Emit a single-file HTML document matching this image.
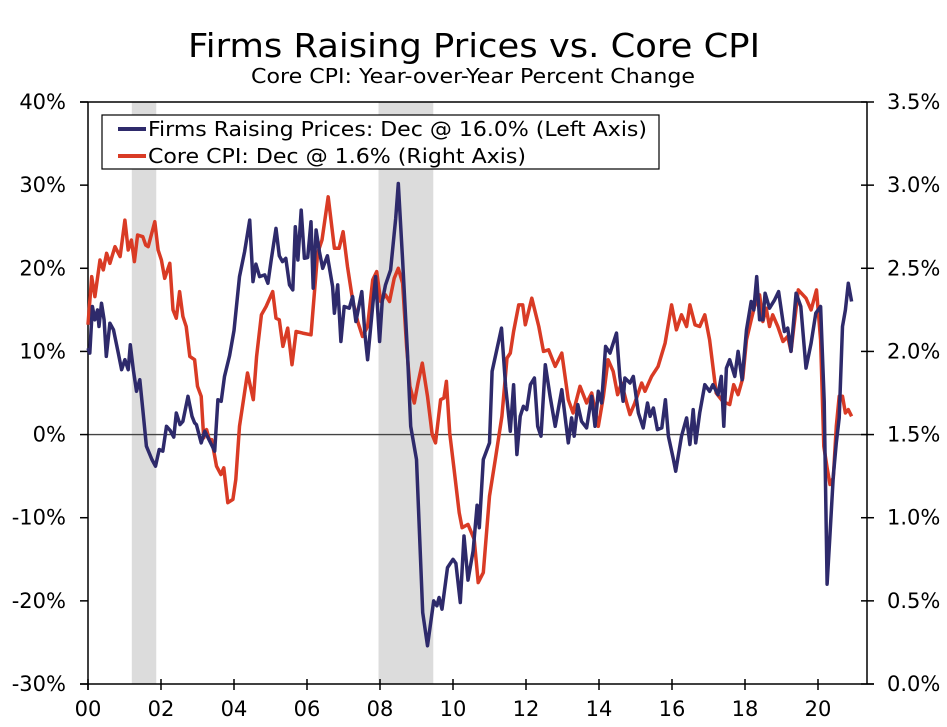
<!DOCTYPE html>
<html><head><meta charset="utf-8">
<style>
html,body{margin:0;padding:0;background:#fff;}
svg{display:block;font-family:"DejaVu Sans","Liberation Sans",sans-serif;}
</style></head>
<body>
<svg id="chart" width="947" height="727" viewBox="0 0 947 727">
<text x="188" y="57" textLength="572" lengthAdjust="spacingAndGlyphs" font-size="33" fill="#000">Firms Raising Prices vs. Core CPI</text>
<text x="251" y="83" textLength="444" lengthAdjust="spacingAndGlyphs" font-size="20" fill="#000">Core CPI: Year-over-Year Percent Change</text>
<g id="rec"></g>
<g id="grid"></g>
<g id="series"></g>
<g>
<rect x="102" y="115" width="557" height="54" fill="#fff" stroke="#000" stroke-width="1.2"/>
<line x1="118" y1="129" x2="146" y2="129" stroke="#2e2a6b" stroke-width="4"/>
<text x="148" y="136" textLength="499" lengthAdjust="spacingAndGlyphs" font-size="20">Firms Raising Prices: Dec @ 16.0% (Left Axis)</text>
<line x1="118" y1="156" x2="146" y2="156" stroke="#d93b25" stroke-width="4"/>
<text x="148" y="163" textLength="378" lengthAdjust="spacingAndGlyphs" font-size="20">Core CPI: Dec @ 1.6% (Right Axis)</text>
</g>
</svg>
<script>
const firmsDates=[0,0.05,0.12,0.19,0.26,0.3,0.37,0.44,0.5,0.6,0.7,0.83,0.92,1.01,1.1,1.16,1.24,1.33,1.42,1.5,1.6,1.75,1.85,1.95,2.05,2.15,2.25,2.35,2.42,2.52,2.6,2.74,2.85,2.92,2.97,3.1,3.2,3.38,3.47,3.56,3.65,3.74,3.88,4.0,4.15,4.29,4.43,4.52,4.6,4.7,4.84,4.93,5.02,5.15,5.24,5.33,5.42,5.52,5.61,5.68,5.75,5.84,5.93,6.02,6.11,6.17,6.25,6.34,6.43,6.56,6.7,6.75,6.84,6.93,7.02,7.16,7.25,7.34,7.5,7.59,7.66,7.79,7.88,7.99,8.06,8.15,8.29,8.43,8.5,8.62,8.75,8.84,9.0,9.17,9.3,9.47,9.56,9.62,9.7,9.85,10.0,10.08,10.2,10.3,10.41,10.55,10.66,10.72,10.83,11.0,11.07,11.33,11.44,11.57,11.66,11.75,11.84,11.93,12.02,12.12,12.23,12.32,12.41,12.53,12.66,12.8,12.98,13.16,13.25,13.32,13.42,13.52,13.66,13.8,13.89,13.98,14.07,14.18,14.3,14.48,14.57,14.66,14.71,14.85,14.94,15.08,15.21,15.33,15.4,15.49,15.6,15.72,15.82,15.9,16.03,16.1,16.26,16.4,16.49,16.58,16.65,16.76,16.9,17.03,17.12,17.26,17.35,17.42,17.49,17.58,17.72,17.81,17.92,18.04,18.17,18.24,18.32,18.4,18.49,18.55,18.67,18.81,18.92,19.08,19.17,19.26,19.4,19.53,19.67,19.81,19.94,20.07,20.17,20.25,20.33,20.42,20.5,20.58,20.67,20.75,20.83,20.92];
const firmsValues=[10.4,9.8,15.4,13.8,15,13,15.8,13.8,9.4,13.4,12.6,9.8,7.8,9,7.8,10.8,7.8,5.2,6.6,3,-1.4,-3,-3.8,-1.8,-2,1,0.5,-0.3,2.6,1.2,1.6,4.6,2.2,1.4,1.2,-1,0.4,-1.2,-2,4.2,4,7,9.5,12.5,19,22,25.8,18.4,20.5,19,19.2,18.2,21,24.8,21.5,20.8,21.2,18,17.4,25,21,27,21.2,21.3,25.6,17.6,24.6,22,20,21.5,17.8,14.6,18,11.2,15.4,15.2,16.6,13.6,17.2,12,9,15,19,11.2,16,18,19.8,26,30.2,21,10,1,-3,-21.4,-25.4,-20,-20.6,-19.6,-21,-16,-15,-15.5,-20.2,-12.2,-17.5,-14,-8.5,-11.2,-3,-1,7.6,12.8,5.8,0.4,6,-2.4,2.2,3.4,3,6,6.8,1,-0.2,8.4,4.6,1,5.4,-1,2,-0.2,3.6,1.6,0.8,4.6,1,5.2,3.8,10.6,9.8,12.2,7,4,6.8,6.2,7,2.6,0.8,3.8,2.2,3.2,0.6,0.8,4.2,-0.2,-2.8,-4.4,-0.2,2,-1.2,3,-1,2.6,6,5.2,6,4.8,7,1,8,9,7,10,6.6,12.6,16,15,19,13.8,13.8,17,15.2,16.2,17.2,12.4,12.8,10,17,15.4,8,11,14.6,15.4,4,-18,-12,-5,-1,2,13,15,18.2,16];
const cpiDates=[0,0.1,0.19,0.33,0.42,0.51,0.6,0.74,0.88,1.01,1.1,1.19,1.27,1.36,1.5,1.58,1.65,1.83,1.92,2.01,2.1,2.24,2.33,2.42,2.51,2.6,2.69,2.79,2.92,3.0,3.1,3.17,3.25,3.32,3.39,3.52,3.64,3.72,3.83,3.97,4.05,4.15,4.26,4.37,4.53,4.62,4.75,4.88,5.06,5.15,5.24,5.34,5.47,5.59,5.7,5.88,6.11,6.29,6.41,6.58,6.75,6.88,6.99,7.11,7.25,7.39,7.52,7.66,7.8,7.91,8.02,8.15,8.26,8.39,8.5,8.62,8.73,8.82,8.94,9.04,9.16,9.3,9.43,9.52,9.66,9.75,9.82,9.91,10.03,10.17,10.25,10.41,10.58,10.69,10.83,11.0,11.16,11.34,11.48,11.57,11.66,11.8,11.91,11.98,12.16,12.35,12.48,12.62,12.8,12.98,13.16,13.29,13.48,13.66,13.8,13.98,14.12,14.25,14.39,14.51,14.62,14.76,14.85,14.98,15.17,15.26,15.44,15.62,15.81,15.99,16.12,16.26,16.4,16.49,16.63,16.76,16.9,17.03,17.21,17.39,17.58,17.69,17.81,17.94,18.04,18.17,18.26,18.4,18.49,18.58,18.67,18.76,18.9,19.04,19.17,19.26,19.35,19.46,19.67,19.81,19.96,20.07,20.16,20.25,20.33,20.42,20.5,20.58,20.67,20.75,20.83,20.92];
const cpiValues=[2.16,2.45,2.33,2.55,2.49,2.59,2.53,2.63,2.57,2.79,2.61,2.67,2.54,2.7,2.69,2.64,2.63,2.78,2.61,2.55,2.44,2.53,2.25,2.2,2.36,2.21,2.15,1.97,1.95,1.79,1.73,1.48,1.53,1.47,1.47,1.31,1.26,1.3,1.09,1.11,1.23,1.55,1.71,1.87,1.71,1.97,2.22,2.27,2.36,2.2,2.19,2.03,2.14,1.92,2.12,2.11,2.1,2.59,2.67,2.93,2.62,2.62,2.72,2.51,2.31,2.18,2.09,2.15,2.43,2.48,2.3,2.34,2.3,2.44,2.5,2.41,2.03,1.79,1.69,1.81,1.93,1.73,1.5,1.45,1.71,1.72,1.82,1.51,1.29,1.03,0.94,0.96,0.87,0.61,0.67,1.13,1.35,1.61,1.96,1.99,2.12,2.28,2.28,2.16,2.32,2.15,2.0,2.01,1.91,1.99,1.71,1.63,1.79,1.69,1.75,1.55,1.73,1.95,1.88,1.74,1.81,1.69,1.62,1.69,1.81,1.76,1.85,1.91,2.05,2.28,2.13,2.22,2.15,2.28,2.16,2.15,2.22,2.07,1.75,1.7,1.68,1.8,1.74,1.84,2.07,2.19,2.27,2.34,2.18,2.26,2.15,2.22,2.15,2.06,2.09,2.0,2.17,2.37,2.32,2.25,2.37,2.07,1.43,1.3,1.2,1.24,1.55,1.73,1.73,1.63,1.65,1.61];
const leftTicks=[40,30,20,10,0,-10,-20,-30];
const rightTicks=[3.5,3.0,2.5,2.0,1.5,1.0,0.5,0.0];
const yearTicks=[0,2,4,6,8,10,12,14,16,18,20];
const yearLabels=["00","02","04","06","08","10","12","14","16","18","20"];
const recessions=[[2001.2,2001.87],[2007.96,2009.46]];

const X0=88,X1=867,Y0=102,Y1=684;
const xs=t=>X0+t*36.5;
const yl=v=>Y1-(v+30)/70*(Y1-Y0);
const yr=v=>Y1-v/3.5*(Y1-Y0);
const NS="http://www.w3.org/2000/svg";
function mk(tag,attrs,parent){const e=document.createElementNS(NS,tag);for(const k in attrs)e.setAttribute(k,attrs[k]);parent.appendChild(e);return e;}
const rec=document.getElementById('rec'),grid=document.getElementById('grid'),ser=document.getElementById('series');
recessions.forEach(r=>{const e=mk('rect',{x:xs(r[0]-2000),y:Y0,width:xs(r[1]-2000)-xs(r[0]-2000),height:Y1-Y0,fill:'#dcdcdc'},rec);

});
let z=mk('line',{x1:X0,x2:X1,y1:yl(0),y2:yl(0),stroke:'#444','stroke-width':1.3},grid);


mk('line',{x1:80,x2:X1,y1:Y0,y2:Y0,stroke:'#000','stroke-width':1.5},grid);
let la=mk('line',{x1:X0,x2:X0,y1:Y0,y2:Y1+6,stroke:'#000','stroke-width':1.5},grid);


let ra=mk('line',{x1:X1,x2:X1,y1:Y0,y2:Y1,stroke:'#000','stroke-width':1.5},grid);


let ba=mk('line',{x1:80,x2:X1+7,y1:Y1,y2:Y1,stroke:'#000','stroke-width':1.5},grid);


leftTicks.forEach(v=>{const y=yl(v);mk('line',{x1:80,x2:X0,y1:y,y2:y,stroke:'#000','stroke-width':1.5},grid);
const t=mk('text',{x:66,y:y+7,'text-anchor':'end','font-size':21},grid);t.textContent=v+'%';

});
rightTicks.forEach(v=>{const y=yr(v);mk('line',{x1:X1-6,x2:X1+7,y1:y,y2:y,stroke:'#000','stroke-width':1.5},grid);
const t=mk('text',{x:887,y:y+7,'font-size':21},grid);t.textContent=v.toFixed(1)+'%';

});
yearTicks.forEach((v,i)=>{const x=xs(v);mk('line',{x1:x,x2:x,y1:Y1-5,y2:Y1+6,stroke:'#000','stroke-width':1.5},grid);
const t=mk('text',{x:x,y:716,'text-anchor':'middle','font-size':21},grid);t.textContent=yearLabels[i];

});
const pc=cpiDates.map((d,i)=>xs(d).toFixed(1)+','+yr(cpiValues[i]).toFixed(1)).join(' ');
const l2=mk('polyline',{points:pc,fill:'none',stroke:'#d93b25','stroke-width':3.5,'stroke-linejoin':'round'},ser);


const pf=firmsDates.map((d,i)=>xs(d).toFixed(1)+','+yl(firmsValues[i]).toFixed(1)).join(' ');
const l1=mk('polyline',{points:pf,fill:'none',stroke:'#2e2a6b','stroke-width':3.5,'stroke-linejoin':'round'},ser);


</script>
</body></html>
